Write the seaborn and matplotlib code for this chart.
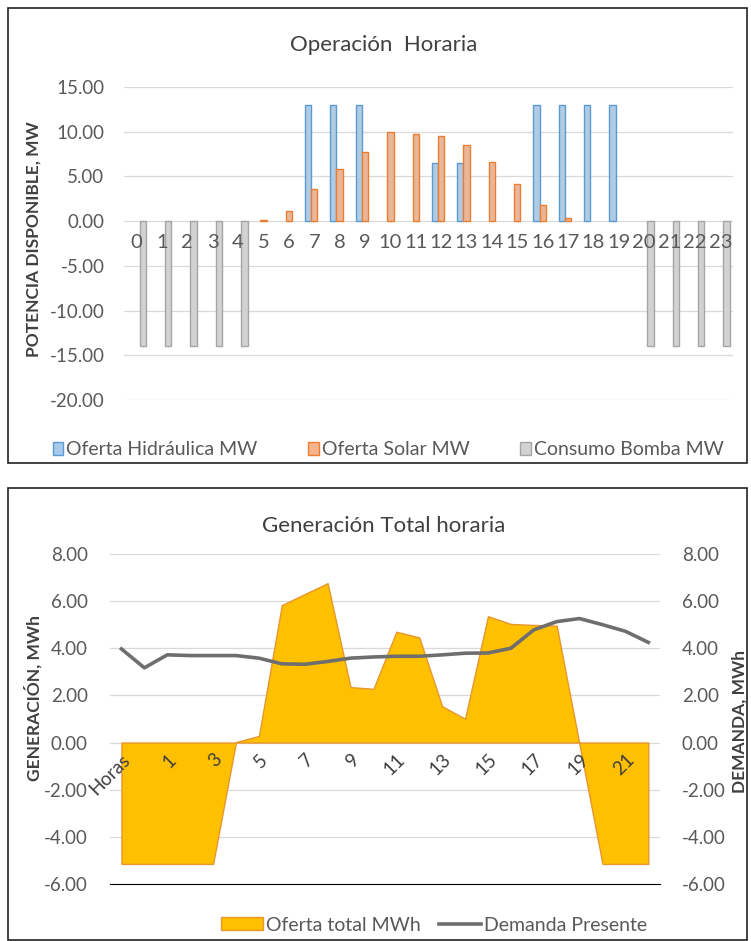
import numpy as np
import pandas as pd
import matplotlib
matplotlib.use('Agg')
import matplotlib.pyplot as plt
import seaborn as sns
from matplotlib.patches import Patch, Rectangle
from matplotlib.lines import Line2D
from matplotlib.ticker import FormatStrFormatter

# Datos gráfico superior (potencia por hora, MW)
horas = list(range(24))
oferta_hidraulica = [0, 0, 0, 0, 0, 0, 0, 13, 13, 13, 0, 0, 6.5, 6.5, 0, 0, 13, 13, 13, 13, 0, 0, 0, 0]
oferta_solar = [0, 0, 0, 0, 0, 0.15, 1.1, 3.6, 5.8, 7.7, 10.0, 9.75, 9.55, 8.5, 6.6, 4.2, 1.8, 0.3, 0, 0, 0, 0, 0, 0]
consumo_bomba = [-14, -14, -14, -14, -14, 0, 0, 0, 0, 0, 0, 0, 0, 0, 0, 0, 0, 0, 0, 0, -14, -14, -14, -14]
series_sup = ['Oferta Hidráulica MW', 'Oferta Solar MW', 'Consumo Bomba MW']

# Datos gráfico inferior (MWh)
etiquetas_inf = ['Horas'] + [str(h) for h in range(23)]
oferta_total = [-5.15, -5.15, -5.15, -5.15, -5.15, 0.02, 0.28, 5.83, 6.3, 6.76, 2.35, 2.28,
                4.7, 4.46, 1.54, 1.01, 5.36, 5.03, 4.99, 4.96, -0.1, -5.15, -5.15, -5.15]
demanda = [3.97, 3.17, 3.72, 3.69, 3.69, 3.69, 3.58, 3.34, 3.32, 3.44, 3.58, 3.63,
           3.66, 3.66, 3.72, 3.79, 3.80, 4.0, 4.78, 5.13, 5.26, 5.0, 4.72, 4.25]

plt.rcParams['font.family'] = ['Lato', 'DejaVu Sans']
TXT = '#595959'
GRID = '#D9D9D9'
TIT = '#404040'

fig = plt.figure(figsize=(7.51, 9.41), dpi=100)

# marcos de los dos gráficos
for y0, h in [(0.508, 0.4835), (0.001, 0.4803)]:
    fig.add_artist(Rectangle((0.0106, y0), 0.984, h, transform=fig.transFigure,
                             fill=False, edgecolor='#222222', lw=1.2))

# ---------------- Operación Horaria ----------------
ax1 = fig.add_axes([0.165, 0.575, 0.811, 0.3326])
df_sup = pd.DataFrame({
    'Hora': horas * 3,
    'Serie': [s for s in series_sup for _ in horas],
    'Valor': oferta_hidraulica + oferta_solar + consumo_bomba,
})
rellenos = ['#A9CBEB', '#F5B48C', '#D2D2D2']
bordes = ['#5B9BD5', '#ED7D31', '#A5A5A5']
sns.barplot(data=df_sup, x='Hora', y='Valor', hue='Serie', hue_order=series_sup,
            palette=rellenos, width=0.74, ax=ax1, legend=False, linewidth=1.0)
for cont, ec in zip(ax1.containers, bordes):
    for bar in cont:
        bar.set_edgecolor(ec)
        if bar.get_height() == 0:
            bar.set_visible(False)

ax1.set_ylim(-20, 15)
ax1.set_xlim(-0.5, 23.5)
ax1.set_yticks(np.arange(-20, 16, 5))
ax1.yaxis.set_major_formatter(FormatStrFormatter('%.2f'))
ax1.grid(axis='y', color=GRID, lw=0.9)
ax1.set_axisbelow(True)
for s in ['top', 'right', 'left', 'bottom']:
    ax1.spines[s].set_visible(False)
ax1.tick_params(axis='both', length=0, colors=TXT)
ax1.tick_params(axis='y', labelsize=13.5, pad=14)
ax1.tick_params(axis='x', labelbottom=False)
ax1.set_xlabel('')
ax1.set_ylabel('')

# etiquetas de hora por encima de las barras (eje gemelo)
ax1t = ax1.twinx()
ax1t.set_ylim(-20, 15)
ax1t.yaxis.set_visible(False)
ax1t.xaxis.set_visible(True)
for s in ax1t.spines.values():
    s.set_visible(False)
ax1t.spines['bottom'].set_position(('data', 0))
ax1t.tick_params(axis='x', labelbottom=True, labeltop=False, length=0, labelsize=14.5, pad=9,
                 labelcolor=TXT)

fig.text(0.511, 0.952, 'Operación  Horaria', ha='center', va='center', fontsize=16, color=TIT)
fig.text(0.044, 0.746, 'POTENCIA DISPONIBLE, MW', rotation=90, ha='center', va='center',
         fontsize=12.5, color=TIT, fontweight='bold')

h_sup = [Patch(facecolor=f, edgecolor=e, lw=1.0) for f, e in zip(rellenos, bordes)]
fig.legend(h_sup, series_sup, loc='center', bbox_to_anchor=(0.517, 0.522), ncol=3, frameon=False,
           fontsize=14, handlelength=0.55, handleheight=0.6, handletextpad=0.15, columnspacing=2.6,
           labelcolor=TXT)

# ---------------- Generación Total horaria ----------------
ax2 = fig.add_axes([0.1465, 0.0606, 0.732, 0.3507])
x = np.arange(len(etiquetas_inf))
ax2.fill_between(x, 0, oferta_total, facecolor='#FFC000', edgecolor='#E8962E', lw=1.0, zorder=1)

ax3 = ax2.twinx()
sns.lineplot(x=x, y=demanda, ax=ax3, color='#6E6E6E', lw=2.6)
ax3.set_ylim(-6, 8)
ax3.set_yticks(np.arange(-6, 9, 2))
ax3.yaxis.set_major_formatter(FormatStrFormatter('%.2f'))
for s in ax3.spines.values():
    s.set_visible(False)
ax3.set_ylabel('')
ax3.set_xlabel('')

ax2.set_ylim(-6, 8)
ax2.set_xlim(-0.5, 23.5)
ax2.set_yticks(np.arange(-6, 9, 2))
ax2.yaxis.set_major_formatter(FormatStrFormatter('%.2f'))
ax2.grid(axis='y', color=GRID, lw=0.9, zorder=0)
ax2.set_axisbelow(True)
ax2.set_xticks(x[::2])
ax2.set_xticklabels([etiquetas_inf[0]] + [str(v) for v in range(1, 23, 2)])
for s in ['top', 'right', 'left']:
    ax2.spines[s].set_visible(False)
ax2.tick_params(axis='both', length=0, colors=TXT)
ax2.tick_params(axis='y', labelsize=13.5, pad=16)
ax2.tick_params(axis='x', labelbottom=False)

# las etiquetas de hora se dibujan desde el eje gemelo para quedar sobre el área
ax3.xaxis.set_visible(True)
ax3.spines['bottom'].set_position(('data', 0))
ax3.tick_params(axis='x', labelbottom=True, labeltop=False, length=0, labelsize=13.5, pad=6,
                labelcolor='#404040', labelrotation=45)
ax3.tick_params(axis='y', length=0, colors=TXT, labelsize=13.5, pad=16)
for lab in ax3.get_xticklabels():
    lab.set_ha('right')
    lab.set_rotation_mode('anchor')

fig.text(0.511, 0.441, 'Generación Total horaria', ha='center', va='center', fontsize=16, color=TIT)
fig.text(0.044, 0.258, 'GENERACIÓN, MWh', rotation=90, ha='center', va='center',
         fontsize=12.5, color=TIT, fontweight='bold')
fig.text(0.985, 0.233, 'DEMANDA, MWh', rotation=90, ha='center', va='center',
         fontsize=12.5, color=TIT, fontweight='bold')

h_inf = [Patch(facecolor='#FFC000', edgecolor='#E8962E', lw=1.0),
         Line2D([0], [0], color='#6E6E6E', lw=2.6)]
fig.legend(h_inf, ['Oferta total MWh', 'Demanda Presente'], loc='center',
           bbox_to_anchor=(0.578, 0.017), ncol=2, frameon=False, fontsize=14,
           handlelength=2.2, handleheight=0.65, handletextpad=0.15, columnspacing=0.9,
           labelcolor=TXT)

fig.savefig('out.png', dpi=100)
